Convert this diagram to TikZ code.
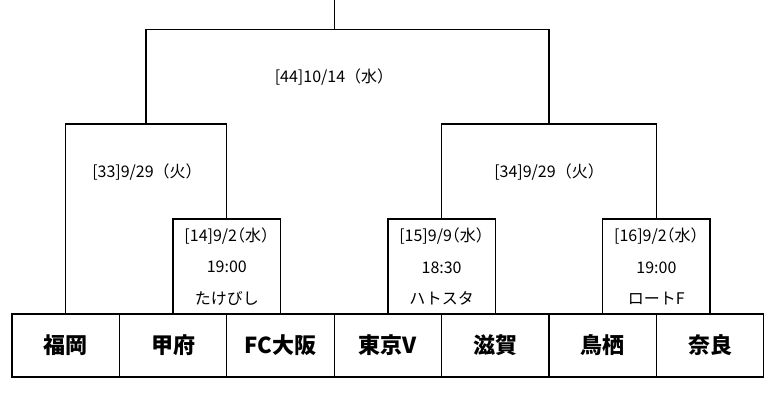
\documentclass[tikz,border=0pt]{standalone}
\usepackage{fontspec}
\setmainfont{Noto Sans CJK JP}
\newfontfamily\boxfont[RawFeature=+halt]{Noto Sans CJK JP}
\usetikzlibrary{positioning}
\tikzset{%
	team box/.style={
		rectangle,
		draw,
		minimum width=107.4pt,
		minimum height=63pt,
		inner sep=0pt,
		outer sep=0pt,
		font=\fontsize{22}{22}\selectfont\bfseries
	},
	match box/.style={
		rectangle,
		draw,
		minimum width=107.4pt,
		minimum height=95pt,
		inner sep=0pt,
		outer sep=0pt,
		align=center,
		font=\boxfont\fontsize{16}{31.5}\selectfont
	},
}
\begin{document}
\begin{tikzpicture}[
				x=1pt, y=1pt,
				line width=1.3pt,
				match date/.style={font=\fontsize{16}{16}\selectfont}
				]
				\useasboundingbox (0,0) rectangle (773,-408);
				
				% Teams
				\node[team box] (fukuoka) at (65.7,-345.5) {福岡};
				\node[team box, right=0pt of fukuoka] (kofu) {甲府};
				\node[team box, right=0pt of kofu] (fcosaka) {FC大阪};
				\node[team box, right=0pt of fcosaka] (tokyov) {東京V};
				\node[team box, right=0pt of tokyov] (shiga) {滋賀};
				\node[team box, right=0pt of shiga] (tosu) {鳥栖};
				\node[team box, right=0pt of tosu] (nara) {奈良};
				
				% First round
				\node[match box, above=0pt of kofu.north east] (m14) {[14]9/2（水）\\19:00\\たけびし};
				\node[match box, above=0pt of tokyov.north east] (m15) {[15]9/9（水）\\18:30\\ハトスタ};
				\node[match box, above=0pt of tosu.north east] (m16) {[16]9/2（水）\\19:00\\ロートF};
				
				% Brackets
				\coordinate (j33) at (146,-124);
				\coordinate (j34) at (549,-124);
				\coordinate (j44) at (334.3,-29.5);
				\coordinate (champ) at (334.3,0);
				\draw (fukuoka.north) |- (j33) -| (m14.north);
				\draw (m15.north) |- (j34) -| (m16.north);
				\draw (j33) |- (j44) -| (j34);
				\draw (champ) -- (j44);
				
				\node[match date] (d44) at (334,-77) {[44]10/14（水）};
				\node[match date] (d33) at (147,-172) {[33]9/29（火）};
				\node[match date] (d34) at (549,-172) {[34]9/29（火）};
				
			\end{tikzpicture}
\end{document}
